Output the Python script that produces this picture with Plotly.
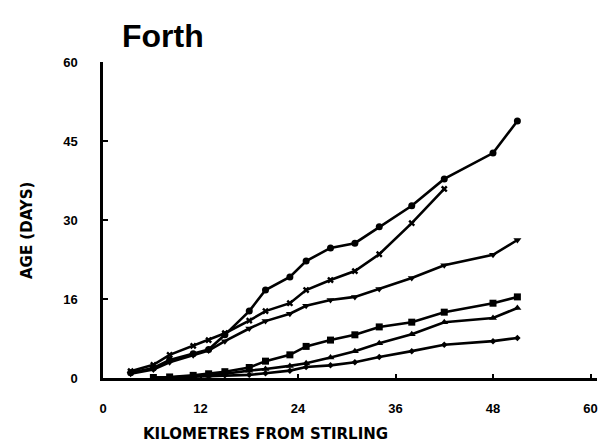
import plotly.graph_objects as go

# Distance downstream from Stirling (km) at which ages were computed
km_upper = [3.4, 6.2, 8.2, 11.1, 13.0, 15.0, 18.0, 20.0, 23.0, 25.0, 28.0, 31.0, 34.0, 38.0, 42.0, 48.0, 51.0]
km_cross = [3.4, 6.2, 8.2, 11.1, 13.0, 15.0, 18.0, 20.0, 23.0, 25.0, 28.0, 31.0, 34.0, 38.0, 42.0]
km_lower = [6.2, 8.2, 11.1, 13.0, 15.0, 18.0, 20.0, 23.0, 25.0, 28.0, 31.0, 34.0, 38.0, 42.0, 48.0, 51.0]

# Water age (days) for each flow case
age_circle = [1.0, 1.9, 3.4, 4.6, 5.4, 8.2, 12.7, 16.7, 19.2, 22.2, 24.7, 25.6, 28.7, 32.7, 37.8, 42.7, 48.8]
age_cross = [1.3, 2.5, 4.4, 6.1, 7.2, 8.5, 10.9, 12.7, 14.2, 16.7, 18.6, 20.3, 23.5, 29.4, 35.9]
age_tridown = [0.8, 1.6, 3.0, 4.3, 5.2, 7.0, 9.4, 10.8, 12.2, 13.7, 14.8, 15.4, 16.9, 19.0, 21.4, 23.4, 26.2]
age_square = [0.1, 0.2, 0.5, 0.8, 1.2, 2.0, 3.2, 4.4, 6.0, 7.2, 8.2, 9.7, 10.6, 12.5, 14.2, 15.4]
age_triup = [0.1, 0.1, 0.3, 0.5, 0.8, 1.4, 1.7, 2.3, 2.8, 3.9, 5.1, 6.6, 8.3, 10.6, 11.4, 13.3]
age_diamond = [0.0, 0.1, 0.2, 0.3, 0.5, 0.6, 0.9, 1.4, 2.1, 2.4, 3.0, 4.0, 5.1, 6.3, 7.0, 7.6]

x_ticks = [0, 12, 24, 36, 48, 60]
y_ticks = [0, 15, 30, 45, 60]
y_tick_text = ["0", "16", "30", "45", "60"]

series = [
    (km_upper, age_circle, "circle", 7),
    (km_cross, age_cross, "x", 6),
    (km_upper, age_tridown, "triangle-down", 7),
    (km_lower, age_square, "square", 7),
    (km_lower, age_triup, "triangle-up", 7),
    (km_lower, age_diamond, "diamond", 5),
]

fig = go.Figure()
for xs, ys, sym, sz in series:
    fig.add_trace(go.Scatter(
        x=xs, y=ys, mode="lines+markers",
        line=dict(color="black", width=2.6),
        marker=dict(symbol=sym, size=sz, color="black"),
        showlegend=False,
    ))

tick_font = dict(family="Liberation Sans, Arial, sans-serif", size=13,
                 color="black", weight="bold")
title_font = dict(family="DejaVu Sans, sans-serif", size=15, color="black",
                  weight="bold")

fig.update_layout(
    width=602, height=445,
    margin=dict(l=103, r=5, t=62, b=67),
    paper_bgcolor="white", plot_bgcolor="white",
    xaxis=dict(
        range=[0, 60.8], tickvals=x_ticks, ticks="inside", ticklen=4, tickwidth=2,
        tickcolor="black", showline=True, linecolor="black", linewidth=3,
        showgrid=False, zeroline=False, tickfont=tick_font, ticklabelstandoff=16,
    ),
    yaxis=dict(
        range=[0, 60], tickvals=y_ticks, ticktext=y_tick_text, ticks="inside",
        ticklen=5, tickwidth=2, tickcolor="black", showline=True, linecolor="black",
        linewidth=2.5, showgrid=False, zeroline=False, tickfont=tick_font,
        ticklabelstandoff=20,
    ),
    annotations=[
        dict(text="Forth", xref="paper", yref="paper", x=0.034, y=1.082,
             xanchor="left", yanchor="middle", showarrow=False,
             font=dict(family="Liberation Sans, Arial, sans-serif", size=32,
                       color="black", weight="bold")),
        dict(text="KILOMETRES FROM STIRLING", xref="paper", yref="paper",
             x=0.328, y=-0.176, xanchor="center", yanchor="middle", showarrow=False,
             font=title_font),
        dict(text="AGE (DAYS)", xref="paper", yref="paper", x=-0.154, y=0.468,
             xanchor="center", yanchor="middle", textangle=-90, showarrow=False,
             font=title_font),
    ],
)

fig.write_html("out.html")
